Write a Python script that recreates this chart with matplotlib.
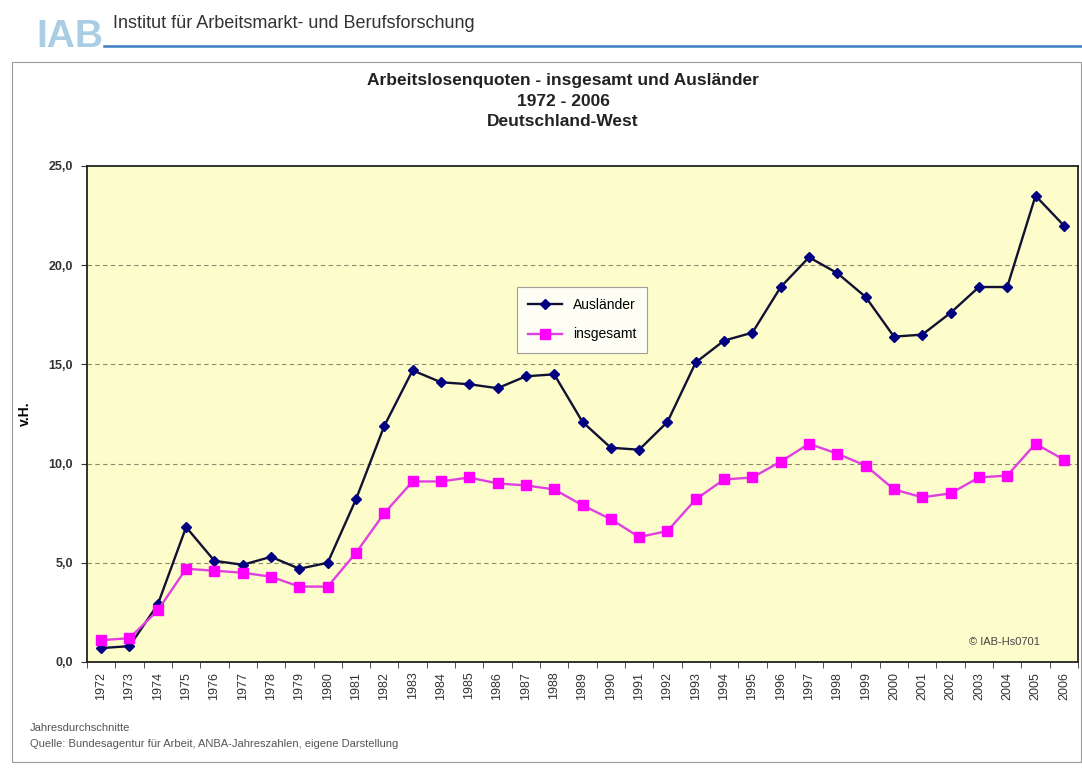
import matplotlib.pyplot as plt
from matplotlib.patches import Rectangle
import matplotlib.lines as mlines
import numpy as np

years = [str(y) for y in range(1972, 2007)]

auslaender = [0.7, 0.8, 2.9, 6.8, 5.1, 4.9, 5.3, 4.7, 5.0, 8.2,
              11.9, 14.7, 14.1, 14.0, 13.8, 14.4, 14.5, 12.1, 10.8, 10.7,
              12.1, 15.1, 16.2, 16.6, 18.9, 20.4, 19.6, 18.4, 16.4, 16.5,
              17.6, 18.9, 18.9, 23.5, 22.0]

insgesamt = [1.1, 1.2, 2.6, 4.7, 4.6, 4.5, 4.3, 3.8, 3.8, 5.5,
             7.5, 9.1, 9.1, 9.3, 9.0, 8.9, 8.7, 7.9, 7.2, 6.3,
             6.6, 8.2, 9.2, 9.3, 10.1, 11.0, 10.5, 9.9, 8.7, 8.3,
             8.5, 9.3, 9.4, 11.0, 10.2]

yticks = [0, 5, 10, 15, 20, 25]

plt.rcParams['font.family'] = ['Liberation Sans', 'DejaVu Sans']

fig = plt.figure(figsize=(10.82, 7.71), dpi=100)
W, H = 1082, 771

def fx(px):
    return px / W

def fy(py):
    return 1 - py / H

# header: logo + institute name + blue rule
fig.text(fx(36), fy(47), 'IAB', fontsize=28, color='#a9cde3', fontweight='bold',
         va='baseline', ha='left')
fig.text(fx(113), fy(23), 'Institut für Arbeitsmarkt- und Berufsforschung',
         fontsize=13, color='#333333', va='center', ha='left')
fig.add_artist(mlines.Line2D([fx(104), fx(1082)], [fy(46), fy(46)],
                             color='#3d7fc1', lw=1.8))

# chart frame
fig.add_artist(Rectangle((fx(12), fy(762)), fx(1081) - fx(12), fy(62) - fy(762),
                         transform=fig.transFigure, fill=False,
                         edgecolor='#999999', lw=0.8))

# titles
for txt, py in [('Arbeitslosenquoten - insgesamt und Ausländer', 80),
                ('1972 - 2006', 101),
                ('Deutschland-West', 122)]:
    fig.text(fx(563), fy(py), txt, fontsize=12.5, fontweight='bold',
             ha='center', va='center', color='#222222')

ax = fig.add_axes([fx(87), fy(662), fx(1078) - fx(87), fy(166) - fy(662)])
ax.set_facecolor('#fdfccb')

x = np.arange(len(years))
ax.plot(x, auslaender, color='#111133', lw=1.7, marker='D', markersize=5.5,
        markerfacecolor='#000080', markeredgecolor='#000080', label='Ausländer', zorder=3)
ax.plot(x, insgesamt, color='#e040e0', lw=1.7, marker='s', markersize=6.5,
        markerfacecolor='#ff00ff', markeredgecolor='#ff00ff', label='insgesamt', zorder=3)

ax.set_xlim(-0.5, len(years) - 0.5)
ax.set_ylim(0, 25)
ax.set_yticks(yticks)
ax.set_yticklabels([f'{v:.1f}'.replace('.', ',') for v in yticks], fontsize=9,
                   fontweight='bold', color='#333333')
ax.set_xticks(x)
ax.set_xticklabels(years, rotation=90, fontsize=9, color='#333333')
ax.tick_params(axis='x', length=0, pad=7)
ax.set_xticks(np.arange(-0.5, len(years), 1), minor=True)
ax.tick_params(axis='x', which='minor', length=4, color='#333333')
ax.tick_params(axis='y', length=4, color='#333333', pad=6)

for v in yticks[1:-1]:
    ax.axhline(v, color='#8c8c6a', lw=0.8, ls=(0, (4, 3)), zorder=1)

for s in ax.spines.values():
    s.set_color('#222222')
    s.set_linewidth(1.3)

ax.set_ylabel('v.H.', fontsize=10, fontweight='bold', labelpad=12)

leg = ax.legend(loc='upper left', bbox_to_anchor=(0.427, 0.77), fontsize=10,
                frameon=True, fancybox=False, edgecolor='#888888',
                handlelength=2.4, borderpad=0.8, labelspacing=1.1)
leg.get_frame().set_facecolor('white')
leg.get_frame().set_linewidth(0.8)

ax.text(0.962, 0.04, '© IAB-Hs0701', transform=ax.transAxes, fontsize=8,
        ha='right', va='center', color='#444444')

fig.text(fx(30), fy(728), 'Jahresdurchschnitte', fontsize=8, color='#555555',
         ha='left', va='center')
fig.text(fx(30), fy(744), 'Quelle: Bundesagentur für Arbeit, ANBA-Jahreszahlen, eigene Darstellung',
         fontsize=8, color='#555555', ha='left', va='center')

fig.savefig('out.png', dpi=100)
